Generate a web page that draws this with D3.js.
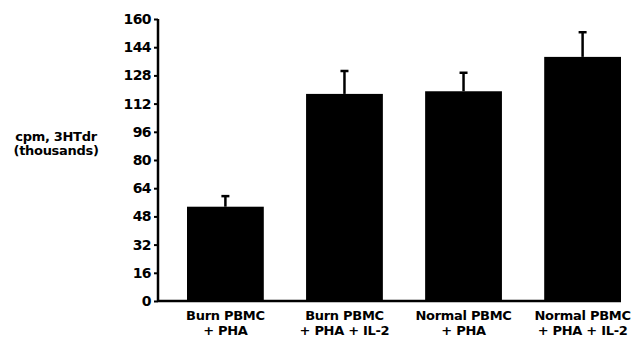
<!DOCTYPE html>
<meta charset="utf-8">
<style>
  body { margin: 0; background: #fff; }
  text { font-family: "DejaVu Sans", sans-serif; font-weight: bold; fill: #000; }
</style>
<script src="https://d3js.org/d3.v7.min.js"></script>
<div id="chart"></div>
<script>

// data (thousands of cpm)
var groups = ["Burn PBMC|+ PHA", "Burn PBMC|+ PHA + IL-2", "Normal PBMC|+ PHA", "Normal PBMC|+ PHA + IL-2"];
var means = [53.5, 117.5, 119, 138.5];
var errors = [6, 13, 10.5, 14];
var yTicks = [0, 16, 32, 48, 64, 80, 96, 112, 128, 144, 160];

var margin = {top: 19, right: 23, bottom: 39, left: 158},
    width = 643 - margin.left - margin.right,
    height = 340 - margin.top - margin.bottom;

var svg = d3.select("#chart")
  .append("svg")
    .attr("width", 643)
    .attr("height", 340)
  .append("g")
    .attr("transform", "translate(" + margin.left + "," + margin.top + ")");

var x = d3.scaleBand()
  .domain(groups)
  .range([29, 463])
  .paddingInner(0.355)
  .paddingOuter(0);

var y = d3.scaleLinear()
  .domain([0, 160])
  .range([height, 0]);

// bars
svg.selectAll(".bar")
  .data(groups)
  .enter()
  .append("rect")
    .attr("x", function(d) { return x(d); })
    .attr("width", x.bandwidth())
    .attr("y", function(d, i) { return y(means[i]); })
    .attr("height", function(d, i) { return height - y(means[i]); })
    .attr("fill", "#000");

// error bars (upper only)
svg.selectAll(".err")
  .data(groups)
  .enter()
  .append("line")
    .attr("x1", function(d) { return x(d) + x.bandwidth() / 2; })
    .attr("x2", function(d) { return x(d) + x.bandwidth() / 2; })
    .attr("y1", function(d, i) { return y(means[i]); })
    .attr("y2", function(d, i) { return y(means[i] + errors[i]); })
    .attr("stroke", "#000")
    .attr("stroke-width", 2.5);

svg.selectAll(".cap")
  .data(groups)
  .enter()
  .append("line")
    .attr("x1", function(d) { return x(d) + x.bandwidth() / 2 - 4; })
    .attr("x2", function(d) { return x(d) + x.bandwidth() / 2 + 4; })
    .attr("y1", function(d, i) { return y(means[i] + errors[i]); })
    .attr("y2", function(d, i) { return y(means[i] + errors[i]); })
    .attr("stroke", "#000")
    .attr("stroke-width", 2.5);

// Y axis
var yAxis = svg.append("g")
  .call(d3.axisLeft(y).tickValues(yTicks).tickSize(4).tickPadding(3));
yAxis.select(".domain").attr("stroke-width", 2.5).attr("d", "M0," + (height + 1) + "V0");
yAxis.selectAll(".tick line").attr("stroke-width", 2);
yAxis.selectAll("text").style("font-size", "14px").style("letter-spacing", "-0.6px");

// X baseline
var last = groups[groups.length - 1];
svg.append("line")
  .attr("x1", 0)
  .attr("x2", x(last) + x.bandwidth())
  .attr("y1", height)
  .attr("y2", height)
  .attr("stroke", "#000")
  .attr("stroke-width", 2.5);

// category labels, two lines each
var lab = svg.selectAll(".lab")
  .data(groups)
  .enter()
  .append("text")
    .attr("text-anchor", "middle")
    .style("font-size", "13px")
    .style("letter-spacing", "-0.3px")
    .attr("transform", function(d) { return "translate(" + (x(d) + x.bandwidth() / 2) + "," + (height + 19) + ")"; });
lab.append("tspan").attr("x", 0).attr("y", 0).text(function(d) { return d.split("|")[0]; });
lab.append("tspan").attr("x", 0).attr("y", 15).text(function(d) { return d.split("|")[1]; });

// y axis title, two separate lines
var titleLines = ["cpm, 3HTdr", "(thousands)"];
svg.selectAll(".ytitle")
  .data(titleLines)
  .enter()
  .append("text")
    .attr("text-anchor", "middle")
    .style("font-size", "13px")
    .style("letter-spacing", "-0.3px")
    .attr("x", 56 - margin.left)
    .attr("y", function(d, i) { return 141 - margin.top + i * 14; })
    .text(function(d) { return d; });

</script>
